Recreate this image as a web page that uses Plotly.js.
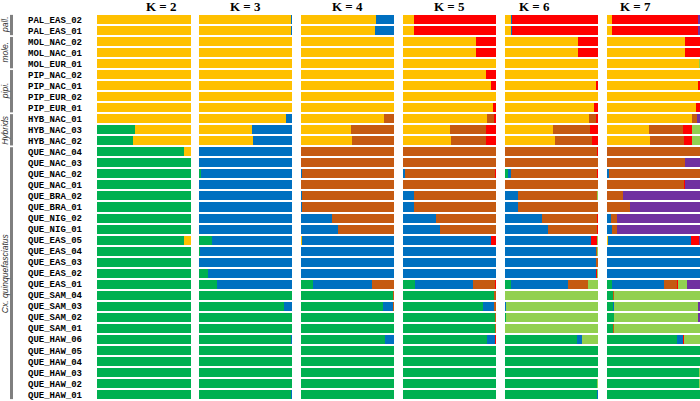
<!DOCTYPE html>
<html lang="en">
<head>
    <meta charset="UTF-8">
    <script src="https://cdn.plot.ly/plotly-3.0.1.min.js"></script>
    <style>
        html, body, #plot {
            height: 100%;
            width: 100%;
            margin: 0;
            padding: 0;
            overflow: hidden;
            background: #ffffff;
        }
    </style>
</head>
<body>
<div id="plot"></div>
<script>
    // sample names, top to bottom
    const samples = [
        'PAL_EAS_02', 'PAL_EAS_01', 'MOL_NAC_02', 'MOL_NAC_01', 'MOL_EUR_01',
        'PIP_NAC_02', 'PIP_NAC_01', 'PIP_EUR_02', 'PIP_EUR_01',
        'HYB_NAC_01', 'HYB_NAC_03', 'HYB_NAC_02',
        'QUE_NAC_04', 'QUE_NAC_03', 'QUE_NAC_02', 'QUE_NAC_01', 'QUE_BRA_02', 'QUE_BRA_01',
        'QUE_NIG_02', 'QUE_NIG_01', 'QUE_EAS_05', 'QUE_EAS_04', 'QUE_EAS_03', 'QUE_EAS_02', 'QUE_EAS_01',
        'QUE_SAM_04', 'QUE_SAM_03', 'QUE_SAM_02', 'QUE_SAM_01',
        'QUE_HAW_06', 'QUE_HAW_05', 'QUE_HAW_04', 'QUE_HAW_03', 'QUE_HAW_02', 'QUE_HAW_01'
    ];

    // ancestry components, always stacked in this order (K uses the first K of them)
    const compColors = ['#00B050', '#FFC000', '#0070C0', '#C55A11', '#FF0000', '#92D050', '#7030A0'];
    const panelTitles = ['K = 2', 'K = 3', 'K = 4', 'K = 5', 'K = 6', 'K = 7'];

    const groupLabels = ['pall.', 'mole.', 'pipi.', 'Hybrids', 'Cx. quinquefasciatus'];
    const groupFirst = [0, 2, 5, 9, 12];
    const groupLast = [1, 4, 8, 11, 34];

    // ancestry proportions (%) per sample
    const k2 = [
        [0, 100], [0, 100], [0, 100], [0, 100], [0, 100],
        [0, 100], [0, 100], [0, 100], [0, 100],
        [0, 100], [40, 60], [38, 62],
        [93, 7], [100, 0], [100, 0], [100, 0], [100, 0], [100, 0],
        [100, 0], [100, 0], [93, 7], [100, 0], [100, 0], [100, 0], [100, 0],
        [100, 0], [100, 0], [100, 0], [100, 0],
        [100, 0], [100, 0], [100, 0], [100, 0], [100, 0], [100, 0]
    ];

    const k3 = [
        [0, 98.5, 1.5], [0, 98.5, 1.5], [0, 100, 0], [0, 100, 0], [0, 100, 0],
        [0, 100, 0], [0, 100, 0], [0, 100, 0], [0, 100, 0],
        [0, 93.6, 6.4], [0, 56.8, 43.2], [0, 57.9, 42.1],
        [0, 0, 100], [0, 0, 100], [2, 0, 98], [0, 0, 100], [0, 0, 100], [0, 0, 100],
        [0, 0, 100], [0, 0, 100], [14, 0, 86], [1, 0, 99], [0, 0, 100], [9.3, 0, 90.7], [19, 0, 81],
        [100, 0, 0], [91, 0, 9], [100, 0, 0], [100, 0, 0],
        [99, 0, 1], [100, 0, 0], [100, 0, 0], [100, 0, 0], [100, 0, 0], [99, 0, 1]
    ];

    const k4 = [
        [0, 80, 20, 0], [0, 79.7, 20.3, 0], [0, 100, 0, 0], [0, 100, 0, 0], [0, 100, 0, 0],
        [0, 100, 0, 0], [0, 100, 0, 0], [0, 100, 0, 0], [0, 100, 0, 0],
        [0, 89, 0, 11], [0, 53.6, 0, 46.4], [0, 54.7, 0, 45.3],
        [0, 0, 0, 100], [0, 0, 0, 100], [0, 0, 1, 99], [0, 0, 0, 100], [0, 0, 1, 99], [0, 0, 1, 99],
        [0, 0, 33, 67], [0, 0, 40, 60], [0, 1, 99, 0], [0, 0, 100, 0], [0, 0, 100, 0], [0, 0, 100, 0], [13, 0, 63, 24],
        [99, 0, 0, 1], [88, 0, 11, 1], [100, 0, 0, 0], [100, 0, 0, 0],
        [90, 0, 10, 0], [100, 0, 0, 0], [100, 0, 0, 0], [100, 0, 0, 0], [100, 0, 0, 0], [100, 0, 0, 0]
    ];

    const k5 = [
        [0, 11.7, 0, 0, 88.3], [0, 11.7, 0, 0, 88.3], [0, 78, 0, 0, 22], [0, 78, 0, 0, 22], [0, 100, 0, 0, 0],
        [0, 88.6, 0, 0, 11.4], [0, 94.3, 0, 0, 5.7], [0, 100, 0, 0, 0], [0, 96.7, 0, 0, 3.3],
        [0, 90, 0, 7.5, 2.5], [0, 50, 0, 38.5, 11.5], [0, 51.5, 0, 37, 11.5],
        [0, 0, 0, 100, 0], [0, 0, 0, 100, 0], [0, 0, 2.5, 96.5, 1], [0, 0, 0, 100, 0], [0, 0, 11.7, 88.3, 0], [0, 0, 12, 88, 0],
        [0, 0, 35.5, 64.5, 0], [0, 0, 40, 60, 0], [0, 0, 94.3, 0, 5.7], [0, 0, 100, 0, 0], [0, 0, 100, 0, 0], [0, 0, 100, 0, 0], [13, 0, 61.6, 23.8, 1.6],
        [97.8, 0, 0, 2.2, 0], [85.7, 0, 11.7, 2.6, 0], [99, 0, 0, 1, 0], [99, 0, 0, 1, 0],
        [90, 0, 8.5, 0, 1.5], [100, 0, 0, 0, 0], [100, 0, 0, 0, 0], [100, 0, 0, 0, 0], [100, 0, 0, 0, 0], [100, 0, 0, 0, 0]
    ];

    const k6 = [
        [0, 6.4, 1, 0, 92.6, 0], [0, 6.4, 1, 0, 92.6, 0], [0, 78.6, 0, 0, 21.4, 0], [0, 78.6, 0, 0, 21.4, 0], [0, 100, 0, 0, 0, 0],
        [0, 100, 0, 0, 0, 0], [0, 97.5, 0, 0, 2.5, 0], [0, 100, 0, 0, 0, 0], [0, 95.7, 0, 0, 4.3, 0],
        [0, 90, 0, 7.5, 2.5, 0], [0, 51.4, 0, 39.7, 8.9, 0], [0, 53.6, 0, 39.3, 7.1, 0],
        [0, 0, 0, 99, 1, 0], [0, 0, 0, 100, 0, 0], [3.5, 0, 3, 92.5, 1, 0], [0, 0, 0, 100, 0, 0], [0, 0, 14, 85, 0, 1], [0, 0, 14, 86, 0, 0],
        [0, 0, 40, 59, 1, 0], [0, 0, 46.4, 52.6, 1, 0], [0.5, 0, 91.5, 0, 6.5, 1.5], [0, 0, 98, 1, 0, 1], [0, 0, 98, 2, 0, 0], [0, 0, 98, 0, 1, 1], [6.4, 0, 61.4, 20.8, 0.5, 10.9],
        [0, 0, 0, 0, 0, 100], [0, 0, 1.5, 0, 0, 98.5], [1, 0, 0, 0, 0, 99], [0, 0, 0, 0, 0, 100],
        [76.8, 0, 5.7, 0, 0, 17.5], [100, 0, 0, 0, 0, 0], [100, 0, 0, 0, 0, 0], [100, 0, 0, 0, 0, 0], [99, 0, 0, 0, 0, 1], [99, 0, 1, 0, 0, 0]
    ];

    const k7 = [
        [0, 5.4, 0, 0, 92, 0, 2.6], [0, 5.4, 0, 0, 92, 0, 2.6], [0, 83.6, 0, 0, 16.4, 0, 0], [0, 83.6, 0, 0, 16.4, 0, 0], [0, 99, 0, 0, 0, 1, 0],
        [0, 100, 0, 0, 0, 0, 0], [0, 97.5, 0, 0, 2.5, 0, 0], [0, 100, 0, 0, 0, 0, 0], [0, 95.7, 0, 0, 4.3, 0, 0],
        [0, 91.1, 0, 5.7, 0, 0, 3.2], [0, 45, 0, 36.8, 9.6, 8.6, 0], [0, 46.4, 0, 36.4, 8.6, 8.6, 0],
        [0, 0, 0, 100, 0, 0, 0], [0, 0, 0, 84, 0, 0, 16], [0, 0, 2, 98, 0, 0, 0], [0, 0, 0, 83, 0.5, 0, 16.5], [0, 0, 0, 17, 0, 0, 83], [0, 0, 0, 25, 0, 0, 75],
        [0, 0, 5, 5.7, 0, 0, 89.3], [0, 0, 5.7, 5, 0, 0, 89.3], [0, 1, 89, 0, 9, 0, 1], [0, 0, 100, 0, 0, 0, 0], [0, 0, 100, 0, 0, 0, 0], [0, 0, 100, 0, 0, 0, 0], [5.7, 0, 55.7, 14.3, 0.5, 10, 13.8],
        [7, 0, 0, 1, 0, 92, 0], [7, 0, 0.5, 0, 0, 90.5, 2], [7.8, 0, 0, 0, 0, 90.2, 2], [7, 0, 0, 1, 0, 92, 0],
        [75.4, 0, 6.4, 0, 1.2, 17, 0], [100, 0, 0, 0, 0, 0, 0], [100, 0, 0, 0, 0, 0, 0], [99, 0, 0, 0, 0, 1, 0], [99, 0, 0, 0, 0, 1, 0], [100, 0, 0, 0, 0, 0, 0]
    ];

    function makePlot() {
        const W = 700;
        const panels = [k2, k3, k4, k5, k6, k7];
        // panel left/right edges in px
        const edges = [[97, 191], [199, 292.3], [301, 394.3], [402.7, 496.3], [505, 598.3], [606.7, 700]];

        const traces = [];
        const layout = {
            width: 700,
            height: 401,
            margin: {l: 0, r: 0, t: 14, b: 1, pad: 0},
            paper_bgcolor: '#ffffff',
            plot_bgcolor: '#ffffff',
            barmode: 'stack',
            bargap: 0.18,
            showlegend: false,
            yaxis: {
                type: 'category',
                categoryorder: 'array',
                categoryarray: samples,
                range: [34.5, -0.5],
                anchor: 'x',
                showgrid: false,
                zeroline: false,
                showline: false,
                ticks: '',
                ticklabelstandoff: 14,
                tickfont: {family: '"Liberation Mono", "Courier New", monospace', size: 9, color: '#000000', weight: 'bold'}
            },
            annotations: [],
            shapes: []
        };

        panels.forEach((rows, p) => {
            const ax = p === 0 ? 'x' : 'x' + (p + 1);
            const axKey = p === 0 ? 'xaxis' : 'xaxis' + (p + 1);
            const nComp = rows[0].length;
            for (let c = 0; c < nComp; c++) {
                traces.push({
                    type: 'bar',
                    orientation: 'h',
                    y: samples,
                    x: rows.map(r => r[c]),
                    xaxis: ax,
                    yaxis: 'y',
                    marker: {color: compColors[c], line: {width: 0}},
                    hoverinfo: 'y+x'
                });
            }
            layout[axKey] = {
                domain: [edges[p][0] / W, edges[p][1] / W],
                range: [0, 100],
                anchor: 'y',
                visible: false,
                fixedrange: true
            };
            layout.annotations.push({
                text: '<b>' + panelTitles[p] + '</b>',
                xref: 'paper', yref: 'paper',
                x: (edges[p][0] + edges[p][1]) / 2 / W,
                y: 1,
                yanchor: 'middle',
                yshift: 8,
                showarrow: false,
                font: {family: '"Liberation Serif", "Times New Roman", serif', size: 13, color: '#000000'}
            });
        });

        // species group bars on the left
        groupLabels.forEach((g, i) => {
            layout.shapes.push({
                type: 'rect',
                xref: 'paper', yref: 'y',
                x0: 10 / W, x1: 13 / W,
                y0: groupFirst[i] - 0.42,
                y1: groupLast[i] + 0.42,
                fillcolor: '#7f7f7f',
                line: {width: 0}
            });
            layout.annotations.push({
                text: '<i>' + g + '</i>',
                xref: 'paper', yref: 'y',
                x: 5 / W,
                xanchor: 'center',
                y: (groupFirst[i] + groupLast[i]) / 2,
                textangle: -90,
                borderpad: 0,
                showarrow: false,
                font: {family: '"Liberation Sans", Arial, sans-serif', size: 8.5, color: '#333333'}
            });
        });

        const config = {displayModeBar: false, staticPlot: true};
        Plotly.newPlot('plot', traces, layout, config);
    }

    document.addEventListener('DOMContentLoaded', makePlot);
</script>
</body>
</html>
